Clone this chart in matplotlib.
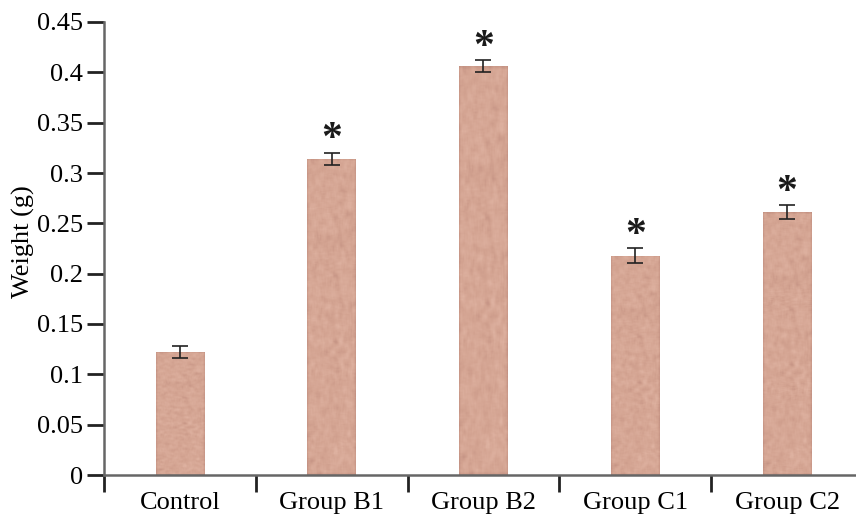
import numpy as np
import matplotlib
matplotlib.use("Agg")
import matplotlib.pyplot as plt
from matplotlib.colors import LinearSegmentedColormap
from matplotlib.ticker import FixedLocator, NullFormatter

groups = ["Control", "Group B1", "Group B2", "Group C1", "Group C2"]
weights = [0.122, 0.314, 0.406, 0.218, 0.261]
errors = [0.006, 0.006, 0.006, 0.007, 0.007]
significant = [False, True, True, True, True]
y_ticks = [0, 0.05, 0.1, 0.15, 0.2, 0.25, 0.3, 0.35, 0.4, 0.45]
y_tick_labels = ["0", "0.05", "0.1", "0.15", "0.2", "0.25", "0.3", "0.35", "0.4", "0.45"]

plt.rcParams["font.family"] = ["Liberation Serif", "DejaVu Serif"]

fig = plt.figure(figsize=(8.56, 5.15), dpi=100)
ax = fig.add_axes([104 / 856, 40 / 515, (856 - 104) / 856, (475 - 22) / 515])

x = np.arange(len(groups))
bar_w = 0.32
bars = ax.bar(x, weights, width=bar_w, color="#d6a593", edgecolor="none", zorder=2)

# mottled paper-like texture inside the bars
rng = np.random.default_rng(7)
noise = rng.random((260, 60))
k = np.ones(5) / 5
noise = np.apply_along_axis(lambda r: np.convolve(r, k, mode="same"), 1, noise)
noise = np.apply_along_axis(lambda c: np.convolve(c, k, mode="same"), 0, noise)
noise = (noise - noise.min()) / (noise.max() - noise.min())
cmap = LinearSegmentedColormap.from_list("tex", ["#c08e80", "#d3a391", "#e0b4a3"])
for b in bars:
    x0, w, h = b.get_x(), b.get_width(), b.get_height()
    im = ax.imshow(noise, cmap=cmap, extent=(x0, x0 + w, 0, h), aspect="auto",
                   interpolation="bilinear", zorder=2.5)
    im.set_clip_path(b)

ax.errorbar(x, weights, yerr=errors, fmt="none", ecolor="#222222", elinewidth=1.2,
            capsize=6, capthick=1.2, zorder=3)

for xi, v, e, s in zip(x, weights, errors, significant):
    if s:
        ax.text(xi, v + e + 0.0125, "*", ha="center", va="center", fontsize=30,
                fontweight="bold", color="#1a1a1a", zorder=4)

ax.set_xlim(-0.5, 4.454)
ax.set_ylim(0, 0.45)

ax.set_xticks(x)
ax.set_xticklabels(groups, fontsize=19)
ax.tick_params(axis="x", which="major", length=0, pad=12)
ax.xaxis.set_minor_locator(FixedLocator(np.arange(-0.5, 4.6, 1.0)))
ax.xaxis.set_minor_formatter(NullFormatter())
ax.tick_params(axis="x", which="minor", direction="out", length=12, width=2, color="#222222")

ax.set_yticks(y_ticks)
ax.set_yticklabels(y_tick_labels, fontsize=19)
ax.tick_params(axis="y", direction="out", length=12, width=2, color="#222222", pad=3)

fig.text(23 / 856, 1 - 242 / 515, "Weight (g)", rotation=90, ha="center", va="center",
         fontsize=19)

for side in ("top", "right"):
    ax.spines[side].set_visible(False)
for side in ("left", "bottom"):
    ax.spines[side].set_color("#666666")
    ax.spines[side].set_linewidth(1.8)

fig.savefig("out.png", dpi=100)
